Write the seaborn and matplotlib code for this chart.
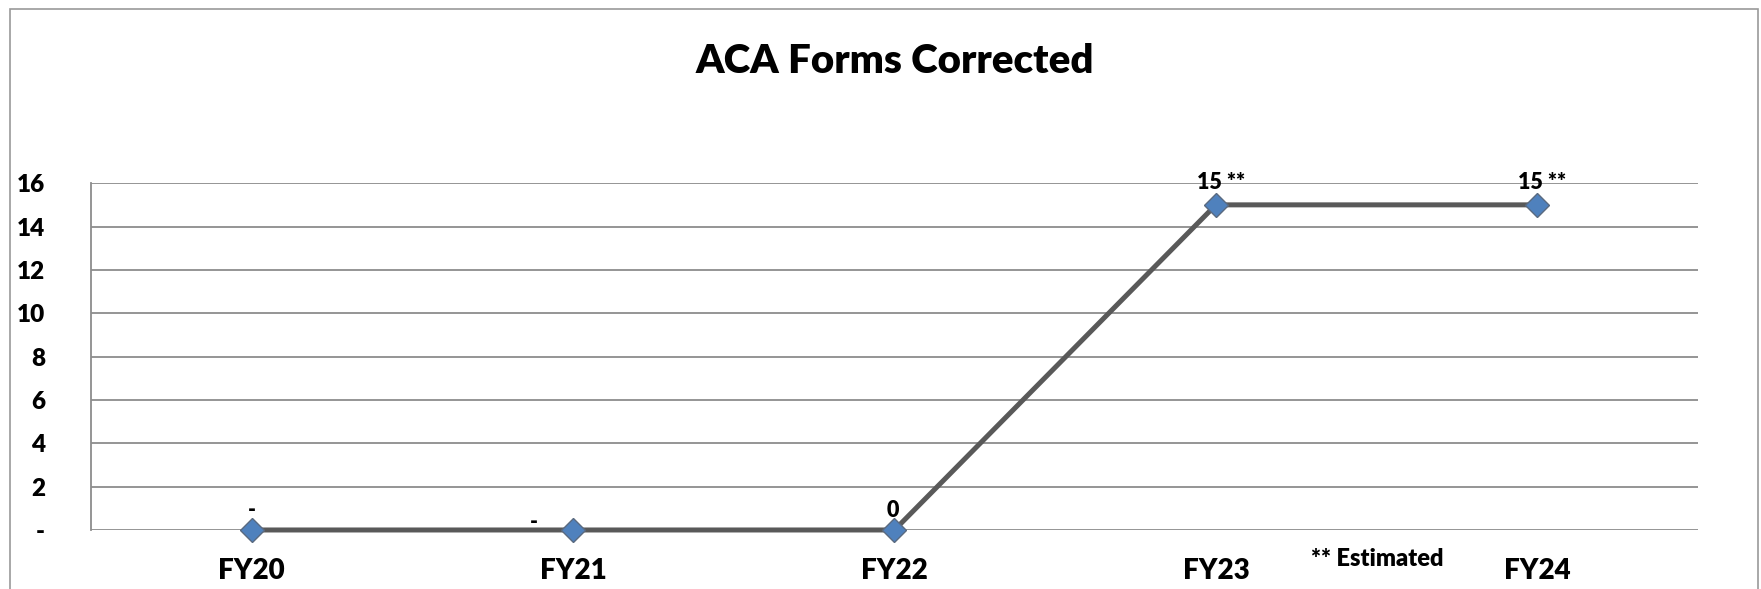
import seaborn as sns
import matplotlib.pyplot as plt
import matplotlib.patches as mpatches
import pandas as pd

categories = ['FY20', 'FY21', 'FY22', 'FY23', 'FY24']
forms_corrected = [0, 0, 0, 15, 15]
point_labels = ['-', '-', '0', '15 **', '15 **']
y_ticks = [0, 2, 4, 6, 8, 10, 12, 14, 16]
y_tick_labels = ['-', '2', '4', '6', '8', '10', '12', '14', '16']

df = pd.DataFrame({'Year': categories, 'Forms': forms_corrected})

sns.set_theme(style="white")
plt.rcParams['font.family'] = ['Lato', 'DejaVu Sans']

fig = plt.figure(figsize=(17.61, 5.89), dpi=100)
ax = fig.add_axes([0.0517, 0.1002, 0.9125, 0.5888])

# outer chart border
fig.patches.append(mpatches.Rectangle((0.0057, -0.05), 0.9927, 1.035, transform=fig.transFigure,
                                      fill=False, edgecolor='#9a9a9a', linewidth=1.2))

sns.lineplot(data=df, x='Year', y='Forms', ax=ax, sort=False, color='#595959',
             linewidth=3.6, marker='D', markersize=12, markerfacecolor='#4f81bd',
             markeredgecolor='#5a6a80', markeredgewidth=1.0, zorder=3, clip_on=False)

ax.set_xlim(-0.5, len(categories) - 0.5)
ax.set_ylim(0, 16)
ax.set_yticks(y_ticks)
ax.set_yticklabels(y_tick_labels)
ax.yaxis.grid(True, color='#8c8c8c', linewidth=1.3)
ax.xaxis.grid(False)
ax.set_axisbelow(True)
for side in ['top', 'right', 'bottom']:
    ax.spines[side].set_visible(False)
ax.spines['left'].set_color('#8c8c8c')
ax.spines['left'].set_linewidth(1.3)
ax.tick_params(axis='y', length=0, pad=33, labelsize=17.5)
ax.tick_params(axis='x', length=0, pad=20, labelsize=20)
for lbl in ax.get_xticklabels() + ax.get_yticklabels():
    lbl.set_fontweight('heavy')
    lbl.set_color('black')
ax.set_xlabel('')
ax.set_ylabel('')

# data labels (offsets in pixels)
offsets = [(0, 19), (-39, 7), (-2, 19), (5, 22), (5, 22)]
for i, (val, txt) in enumerate(zip(forms_corrected, point_labels)):
    ax.annotate(txt, (i, val), xytext=offsets[i], textcoords='offset pixels',
                ha='center', va='center', fontsize=15.5, fontweight='heavy', color='black')

fig.text(0.508, 0.895, 'ACA Forms Corrected', ha='center', va='center',
         fontsize=29, fontweight='heavy', color='black')
fig.text(0.782, 0.051, '** Estimated', ha='center', va='center',
         fontsize=17, fontweight='heavy', color='black')

fig.savefig('out.png', dpi=100)
plt.close(fig)
